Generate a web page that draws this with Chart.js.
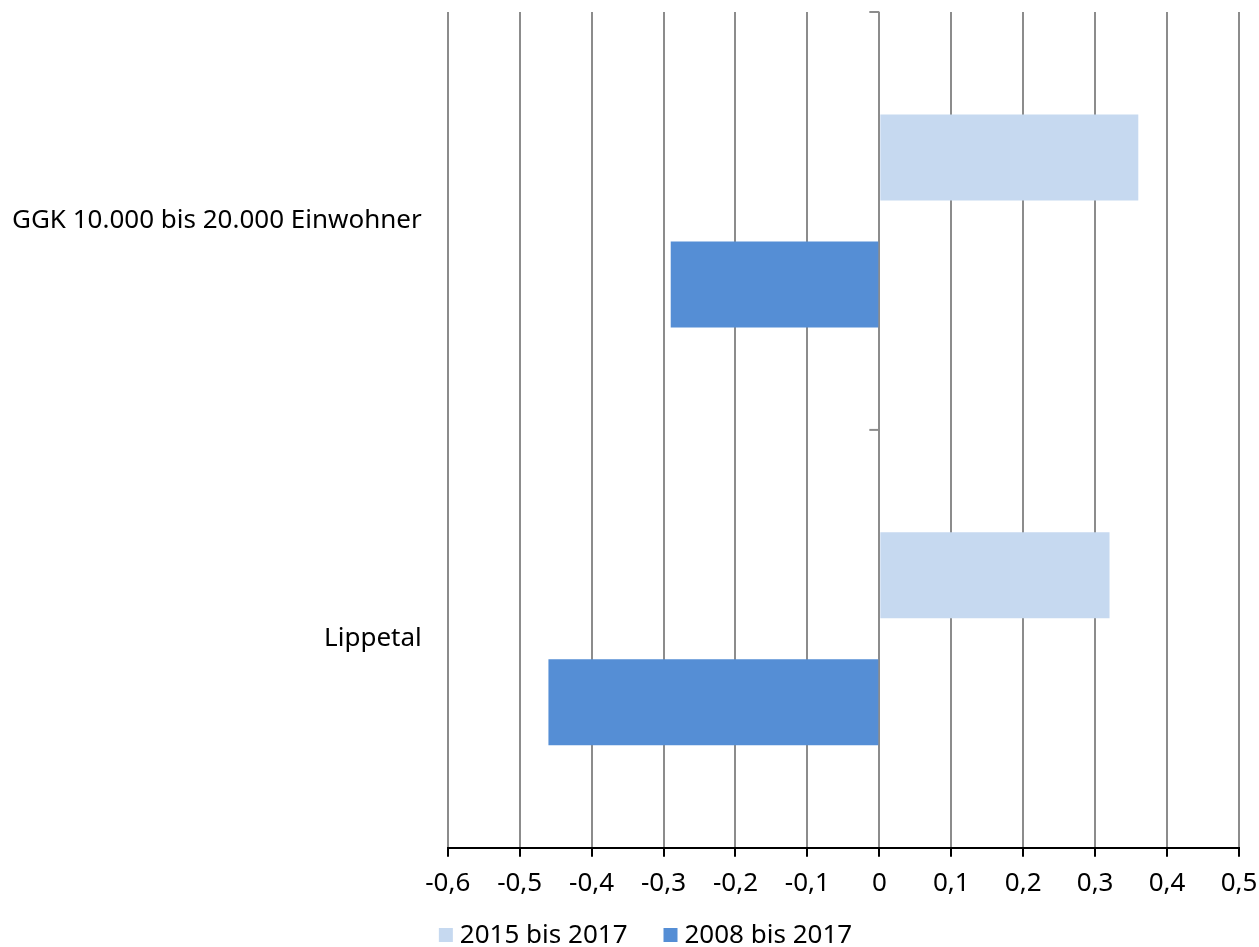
<!DOCTYPE html>
<html><head><meta charset="utf-8">
<script src="https://cdn.jsdelivr.net/npm/chart.js@4"></script>
<style>html,body{margin:0;padding:0;background:#fff}#wrap{width:1259px;height:947px}</style>
</head><body><div id="wrap"><canvas id="c"></canvas></div>
<script>
const categories = ["GGK 10.000 bis 20.000 Einwohner", "Lippetal"];
const series1Label = "2015 bis 2017";
const series1 = [0.36, 0.32];
const series2Label = "2008 bis 2017";
const series2 = [-0.29, -0.46];
const xMin = -0.6, xMax = 0.5, xStep = 0.1;
const FONT = "'Noto Sans', sans-serif";

const catTicks = {
  id: 'catTicks',
  afterDatasetsDraw(chart) {
    const x = chart.scales.x, y = chart.scales.y, ctx = chart.ctx;
    const x0 = x.getPixelForValue(0);
    const n = categories.length;
    ctx.save();
    ctx.strokeStyle = '#8c8c8c'; ctx.lineWidth = 2;
    for (let i = 0; i < n; i++) {
      const yy = y.getPixelForValue(i - 0.5);
      ctx.beginPath(); ctx.moveTo(x0 - 10, yy); ctx.lineTo(x0, yy); ctx.stroke();
    }
    ctx.restore();
  }
};

// bottom legend with spacing like the original
const bottomLegend = {
  id: 'bottomLegend',
  afterDraw(chart) {
    const ctx = chart.ctx;
    const ds = chart.data.datasets;
    const box = 14, gapText = 7, gapItem = 36;
    ctx.save();
    ctx.font = '26px ' + FONT;
    ctx.textBaseline = 'middle';
    ctx.textAlign = 'left';
    const widths = ds.map(d => box + gapText + ctx.measureText(d.label).width);
    const total = widths.reduce((a, b) => a + b, 0) + gapItem * (ds.length - 1);
    let cx = chart.width / 2 + 16 - total / 2;
    const cy = chart.height - 11;
    ds.forEach((d, i) => {
      ctx.fillStyle = d.backgroundColor;
      ctx.fillRect(cx, cy - box / 2 - 1, box, box);
      ctx.fillStyle = '#000';
      ctx.fillText(d.label, cx + box + gapText, cy);
      cx += widths[i] + gapItem;
    });
    ctx.restore();
  }
};
const noPad = s => { s.paddingTop = 0; s.paddingBottom = 0; s.paddingLeft = 0; s.paddingRight = 0; };

Chart.defaults.font.family = FONT;
Chart.defaults.color = '#000';
new Chart(document.getElementById('c'), {
  type: 'bar',
  data: {
    labels: categories,
    datasets: [
      { label: series1Label, data: series1, backgroundColor: '#c6d9f0' },
      { label: series2Label, data: series2, backgroundColor: '#558ed5' }
    ]
  },
  options: {
    indexAxis: 'y',
    responsive: true, maintainAspectRatio: false, animation: false,
    categoryPercentage: 0.608, barPercentage: 0.677,
    layout: { padding: { top: 12, right: 20, left: -6, bottom: 37 } },
    plugins: {
      legend: { display: false },
      tooltip: { enabled: false }
    },
    scales: {
      x: {
        min: xMin, max: xMax,
        afterFit: noPad,
        ticks: { stepSize: xStep, font: { size: 26 }, padding: 11,
          callback: v => { const r = Math.round(v * 10) / 10; return r === 0 ? '0' : r.toFixed(1).replace('.', ','); } },
        grid: { color: '#8c8c8c', lineWidth: 2, tickColor: '#000', tickLength: 9 },
        border: { color: '#000', width: 2 }
      },
      y: {
        afterFit: noPad,
        ticks: { font: { size: 26 }, padding: 18 },
        grid: { display: false },
        border: { display: false }
      }
    }
  },
  plugins: [catTicks, bottomLegend]
});
</script></body></html>
